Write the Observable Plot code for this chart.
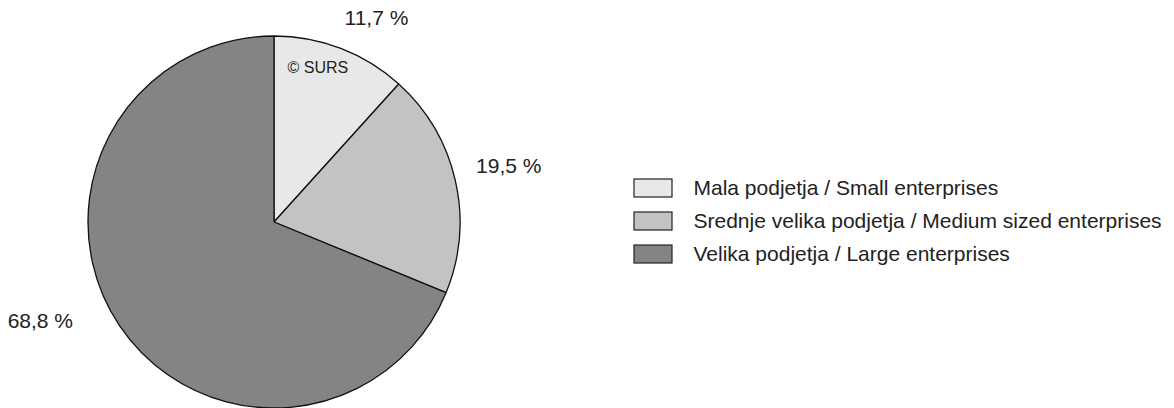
<!DOCTYPE html>
<html>
<head>
<meta charset="utf-8">
<script src="https://cdn.jsdelivr.net/npm/d3@7"></script>
<script src="https://cdn.jsdelivr.net/npm/@observablehq/plot@0.6"></script>
<style>
  html, body { margin: 0; padding: 0; background: #fff; }
  #chart svg { display: block; font-family: "Liberation Sans", Arial, sans-serif; }
</style>
</head>
<body>
<div id="chart"></div>
<script>
// Data
const categories = ["Mala podjetja / Small enterprises", "Srednje velika podjetja / Medium sized enterprises", "Velika podjetja / Large enterprises"];
const shares = [11.7, 19.5, 68.8];
const shareLabels = ["11,7 %", "19,5 %", "68,8 %"];
const colors = ["#e8e8e8", "#c3c3c3", "#858485"];
const sourceNote = "© SURS";

// Layout
const W = 1174, H = 408;
const cx = 274, cy = 222, R = 186;
const labelRadius = [228, 241, 254];
const labelAngleNudge = [0.096, -0.014, 0.193];

const pie = d3.pie().sort(null).value(d => d.value);
const slices = pie(shares.map((v, i) => ({value: v, i})));
const arc = d3.arc().innerRadius(0).outerRadius(R);

const labelData = slices.map((s, i) => {
  const a = (s.startAngle + s.endAngle) / 2 + labelAngleNudge[i];
  return {label: shareLabels[i], x: cx + labelRadius[i] * Math.sin(a), y: cy - labelRadius[i] * Math.cos(a)};
});

const legendX = 634, legendY0 = 179, legendStep = 33, boxW = 38, boxH = 18;
const legendData = categories.map((c, i) => ({
  name: c, color: colors[i],
  x1: legendX, x2: legendX + boxW,
  y1: legendY0 + i * legendStep, y2: legendY0 + i * legendStep + boxH,
  tx: legendX + boxW + 21, ty: legendY0 + i * legendStep + boxH / 2
}));

function pieMark(index, scales, values, dimensions, context) {
  const g = d3.create("svg:g").attr("transform", `translate(${cx},${cy})`);
  g.selectAll("path").data(slices).join("path")
    .attr("d", arc)
    .attr("fill", (d, i) => colors[i])
    .attr("stroke", "#111")
    .attr("stroke-width", 1.3)
    .attr("stroke-linejoin", "round");
  return g.node();
}

const chart = Plot.plot({
  width: W, height: H, margin: 0,
  x: {type: "identity", axis: null},
  y: {type: "identity", axis: null},
  style: {fontFamily: "'Liberation Sans', Arial, sans-serif", background: "#fff"},
  marks: [
    pieMark,
    Plot.text([sourceNote], {x: () => cx + 13, y: () => cy - 155, text: d => d, fontSize: 16, fill: "#222", textAnchor: "start"}),
    Plot.text(labelData, {x: "x", y: "y", text: "label", fontSize: 21, fill: "#222", textAnchor: "middle"}),
    Plot.rect(legendData, {x1: "x1", x2: "x2", y1: "y1", y2: "y2", fill: "color", stroke: "#222", strokeWidth: 1.2}),
    Plot.text(legendData, {x: "tx", y: "ty", text: "name", fontSize: 21, fill: "#222", textAnchor: "start"})
  ]
});
document.getElementById("chart").appendChild(chart);
</script>
</body>
</html>
